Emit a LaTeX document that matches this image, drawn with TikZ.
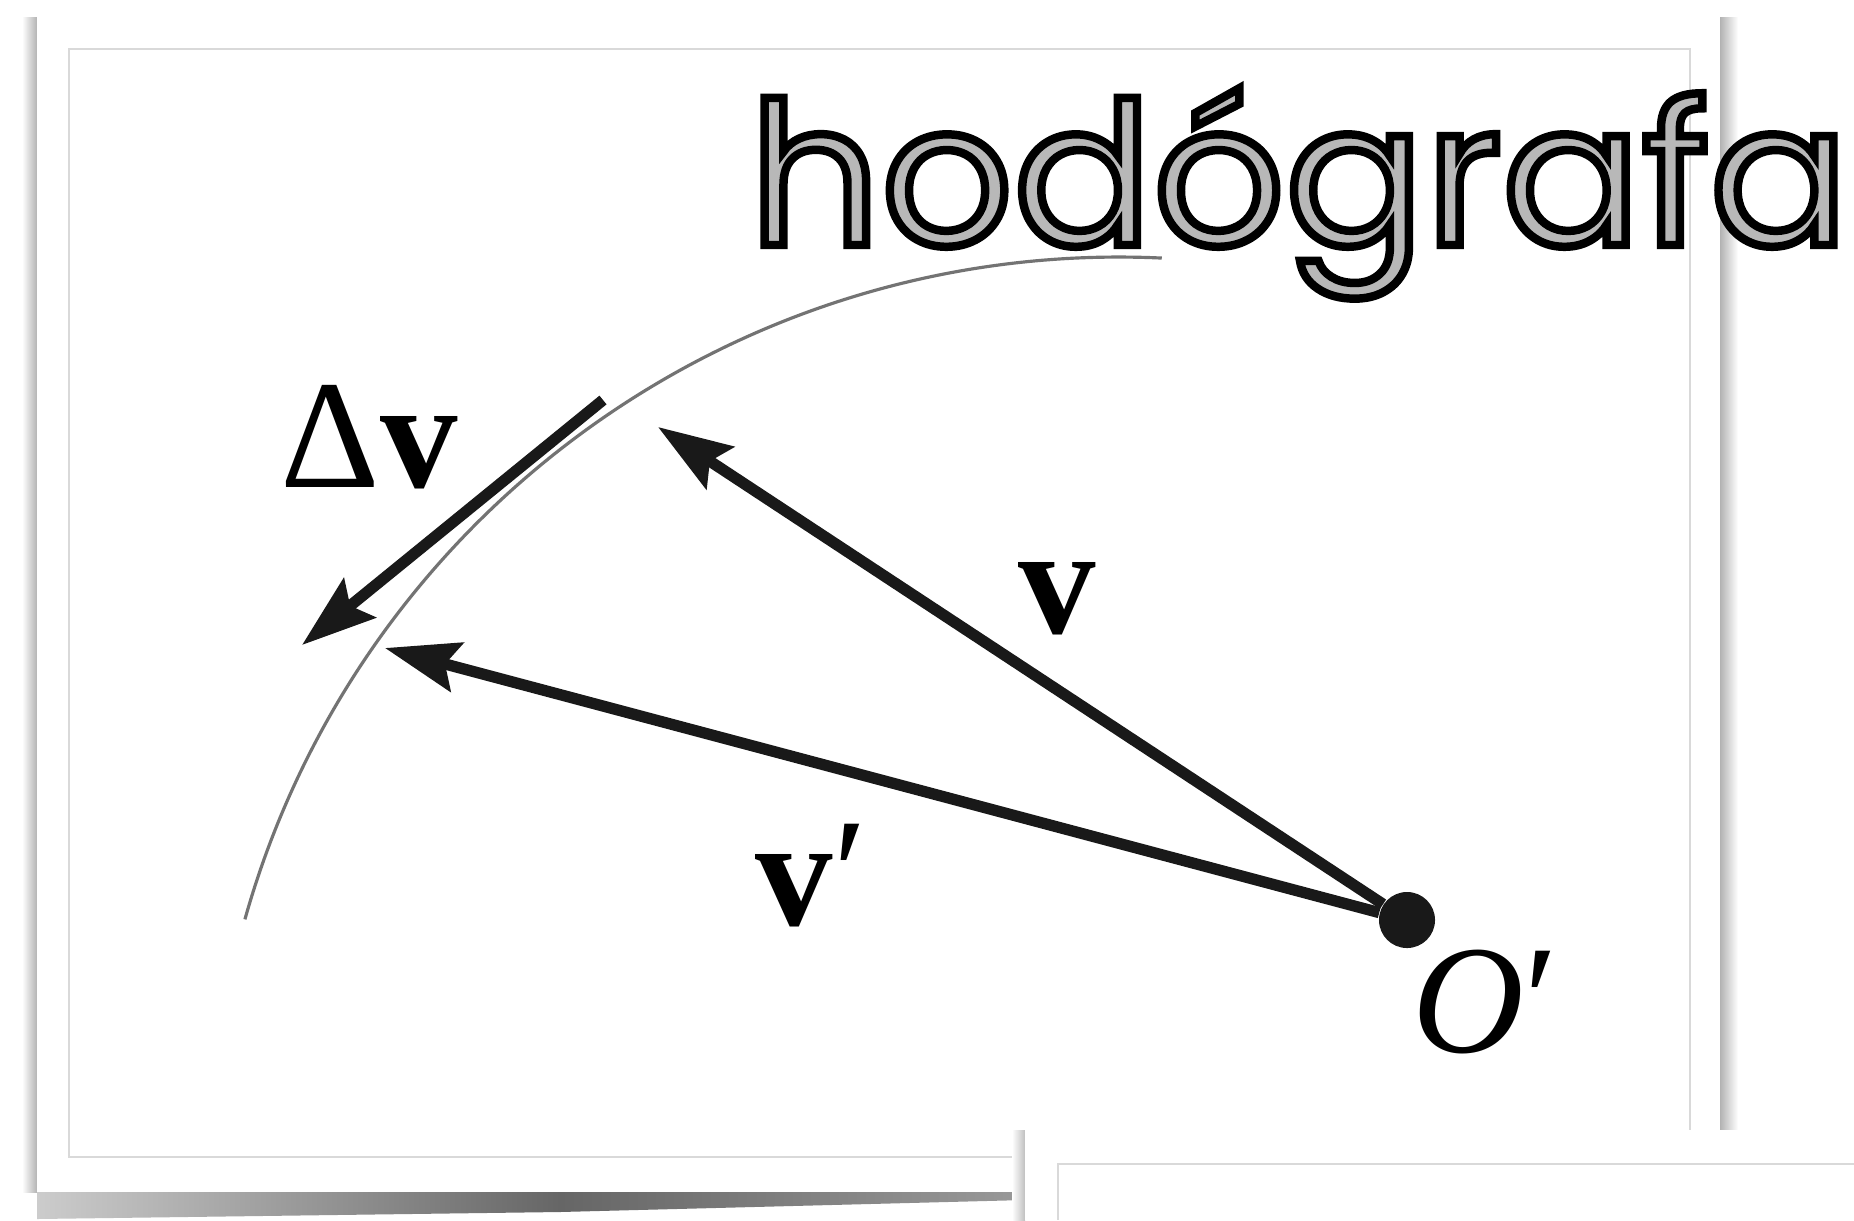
\documentclass[tikz,border=0pt]{standalone}
\usepackage{fontspec}
\setmainfont{Liberation Serif}
\newfontfamily\titlefont[FakeStretch=1.04]{Poppins}
\usetikzlibrary{arrows.meta}

\newcommand{\hodotitle}{\titlefont\fontsize{56.5pt}{56.5pt}\selectfont hod\'ografa}

\begin{document}
\begin{tikzpicture}[
    x=0.01cm, y=-0.01cm,
    vec/.style={line width=3.2pt, black!90,
                -{Stealth[length=7.4mm, width=5mm, inset=1.2mm]}},
    dot/.style={circle, fill=black!90, inner sep=0pt, minimum size=5.6mm},
    lbl/.style={inner sep=0pt, font=\fontsize{44pt}{44pt}\selectfont},
    titletext/.style={inner sep=0pt, anchor=base, text=black!28}
]
  \useasboundingbox (0,0) rectangle (1854,1220);
  \fill[white] (0,0) rectangle (1854,1220);

  % Photo cards with soft shadows
  \shade[left color=white, right color=black!30] (22,17) rectangle (37,1192);
  \shade[left color=black!30, right color=white] (1720,17) rectangle (1738,1192);
  \shade[left color=black!20, right color=black!60]
        (37,1190) -- (560,1190) -- (560,1212) -- (37,1219) -- cycle;
  \shade[left color=black!60, right color=black!40]
        (560,1190) -- (1025,1190) -- (1025,1200) -- (560,1212) -- cycle;
  \fill[white] (37,17) rectangle (1720,1192);
  \draw[black!15, line width=0.4pt] (69,49) rectangle (1690,1157);

  \shade[left color=white, right color=black!25] (1012,1130) rectangle (1025,1220);
  \fill[white] (1025,1130) rectangle (1854,1220);
  \draw[black!15, line width=0.4pt] (1854,1164) -- (1058,1164) -- (1058,1220);

  % Hodograph curve
  \draw[black!55, line width=0.9pt] (1119,1165) ++(-164.3:908)
        arc[start angle=-164.3, end angle=-87.3, radius=908];

  % Origin and vectors
  \node[dot] (O) at (1407,920) {};
  \coordinate (vtip) at (658,427);
  \coordinate (vptip) at (385,648);
  \coordinate (dvstart) at (603,400);
  \coordinate (dvtip) at (302,645);

  \draw[vec] (O) -- (vtip);
  \draw[vec] (O) -- (vptip);
  \draw[vec] (dvstart) -- (dvtip);

  \node[lbl, anchor=base west] (dvlabel) at (280,487) {Δ\textbf{v}};
  \node[lbl, anchor=base west] (vlabel) at (1018,633) {\textbf{v}};
  \node[lbl, anchor=base west] (vplabel) at (755,925) {\textbf{v}′};
  \node[lbl, anchor=base west] (Olabel) at (1412,1052) {\textit{O}′};

  % Sketched title: grey fill with black outline
  \node[titletext] (title) at (1299,245)
        {\special{pdf:literal direct 0 G 2 Tr 2.4 w}\hodotitle\special{pdf:literal direct 0 Tr}};
\end{tikzpicture}
\end{document}
